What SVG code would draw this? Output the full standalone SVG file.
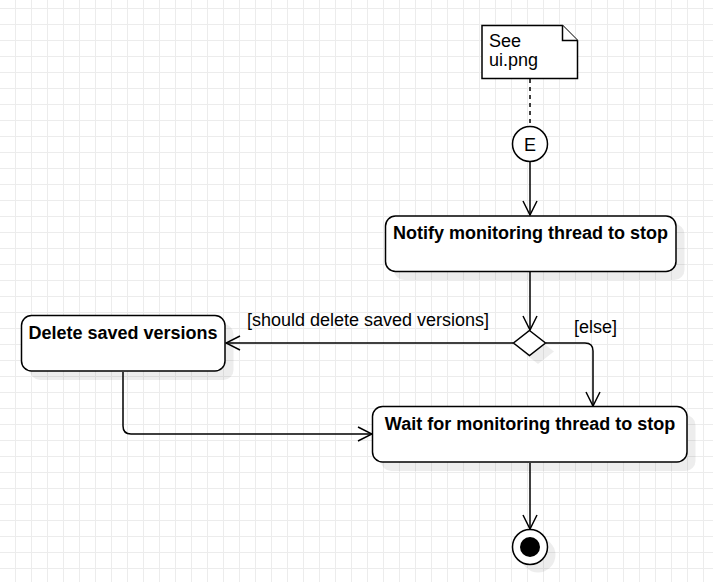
<svg xmlns="http://www.w3.org/2000/svg" width="713" height="582" viewBox="0 0 713 582">
<style>
  .node{fill:#ffffff;stroke:#000000;stroke-width:1.5}
  .shadow{fill:#000000;fill-opacity:0.07;stroke:none}
  .edge{fill:none;stroke:#000000;stroke-width:1.5}
  .lbl{font-family:"Liberation Sans",Arial,sans-serif;font-size:18px;fill:#000000}
  .bold{font-weight:bold}
</style>
<defs>
  <pattern id="grid" x="15" y="8" width="16" height="16" patternUnits="userSpaceOnUse">
    <path d="M0.5 0V16M0 0.5H16" fill="none" stroke="#ececec" stroke-width="1"/>
  </pattern>
  <marker id="open" viewBox="0 0 16 16" refX="15" refY="8" markerWidth="16" markerHeight="16" markerUnits="userSpaceOnUse" orient="auto">
    <path d="M1 1L15 8L1 15" fill="none" stroke="#000000" stroke-width="1.5"/>
  </marker>
</defs>
<rect width="713" height="582" fill="#ffffff"/>
<rect width="713" height="582" fill="url(#grid)"/>

<g id="connectors">
  <path class="edge" d="M530 79V126" stroke-dasharray="4 4"/>
  <path class="edge" d="M530 162V215" marker-end="url(#open)"/>
  <path class="edge" d="M530 272V330" marker-end="url(#open)"/>
  <path class="edge" d="M513 343H226" marker-end="url(#open)"/>
  <path class="edge" d="M546 343H585Q593 343 593 351V406" marker-end="url(#open)"/>
  <path class="edge" d="M123 372V426Q123 434 131 434H372" marker-end="url(#open)"/>
  <path class="edge" d="M530 463V529" marker-end="url(#open)"/>
  <text class="lbl" x="368" y="326" text-anchor="middle">[should delete saved versions]</text>
  <text class="lbl" x="574" y="333">[else]</text>
</g>

<g id="note">
  <path class="node" d="M482 25.5H562.5L577.5 40.5V78.5H482Z"/>
  <path class="node" d="M562.5 25.5V40.5H577.5" fill="none"/>
  <text class="lbl" x="489" y="47">See</text>
  <text class="lbl" x="489" y="66">ui.png</text>
</g>

<g id="entry">
  <circle class="node" cx="530" cy="144" r="17.5"/>
  <text class="lbl" x="530" y="150.5" text-anchor="middle">E</text>
</g>

<g id="notify">
  <rect class="shadow" x="394" y="224" width="290.5" height="56" rx="10"/>
  <rect class="node" x="385.5" y="216" width="290.5" height="55.5" rx="10"/>
  <text class="lbl bold" x="530.5" y="239" text-anchor="middle">Notify monitoring thread to stop</text>
</g>

<g id="decision">
  <path class="shadow" d="M538 339L554 351.5L538 364L522 351.5Z"/>
  <path class="node" d="M529.5 330.5L545.5 343L529.5 355.5L513.5 343Z"/>
</g>

<g id="delete">
  <rect class="shadow" x="30" y="324" width="203.5" height="56" rx="10"/>
  <rect class="node" x="21.5" y="315.5" width="203.5" height="55.5" rx="10"/>
  <text class="lbl bold" x="123" y="339" text-anchor="middle">Delete saved versions</text>
</g>

<g id="wait">
  <rect class="shadow" x="381" y="415" width="314.5" height="56" rx="10"/>
  <rect class="node" x="372.5" y="406.5" width="314.5" height="55.5" rx="10"/>
  <text class="lbl bold" x="530" y="430" text-anchor="middle">Wait for monitoring thread to stop</text>
</g>

<g id="final">
  <circle class="shadow" cx="538" cy="555" r="17.5"/>
  <circle class="node" cx="530" cy="547" r="17.5"/>
  <circle cx="530" cy="547" r="10" fill="#000000"/>
</g>
</svg>
